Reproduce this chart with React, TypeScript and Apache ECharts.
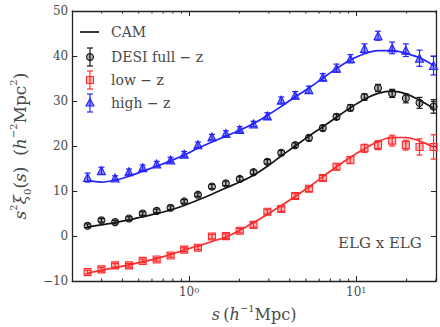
import React, { useEffect, useRef } from 'react';
import * as echarts from 'echarts';

// Separation bins s (h^-1 Mpc), log-spaced
const sBins = [0.247, 0.299, 0.361, 0.437, 0.528, 0.640, 0.775, 0.935, 1.13, 1.37, 1.66, 2.01, 2.43, 2.94, 3.56, 4.31, 5.21, 6.31, 7.62, 9.23, 11.2, 13.5, 16.4, 19.8, 23.9, 29.0];

// Measured s^2 xi_0(s) with 1-sigma errors
const fullZ = [2.3, 3.5, 3.1, 3.9, 5.0, 5.6, 6.3, 7.7, 9.2, 11.0, 11.7, 12.7, 14.2, 16.5, 18.5, 20.2, 21.8, 24.0, 26.5, 28.5, 30.9, 32.9, 31.7, 30.6, 29.6, 28.8];
const fullZErr = [0.4, 0.4, 0.4, 0.4, 0.4, 0.4, 0.4, 0.4, 0.4, 0.5, 0.5, 0.5, 0.5, 0.5, 0.5, 0.5, 0.6, 0.6, 0.6, 0.7, 0.7, 0.8, 0.9, 1.0, 1.2, 1.5];
const lowZ = [-8.0, -7.4, -6.5, -6.5, -5.5, -5.2, -4.3, -3.0, -2.6, -0.1, 0.0, 1.2, 2.5, 5.4, 6.0, 8.9, 10.5, 12.9, 15.4, 16.9, 19.5, 20.2, 21.2, 20.2, 19.8, 19.8];
const lowZErr = [0.4, 0.4, 0.4, 0.4, 0.4, 0.4, 0.4, 0.4, 0.4, 0.5, 0.5, 0.5, 0.5, 0.5, 0.5, 0.6, 0.6, 0.6, 0.7, 0.8, 0.9, 1.0, 1.2, 1.1, 1.8, 2.7];
const highZ = [13.0, 14.5, 12.9, 14.3, 15.2, 16.0, 16.9, 18.2, 20.3, 22.0, 22.8, 23.7, 24.9, 26.7, 30.2, 31.3, 32.5, 35.3, 37.3, 39.4, 41.7, 44.5, 41.8, 41.3, 39.5, 37.9];
const highZErr = [1.0, 0.8, 0.5, 0.6, 0.6, 0.6, 0.6, 0.6, 0.6, 0.6, 0.6, 0.6, 0.6, 0.7, 0.7, 0.8, 0.8, 0.8, 0.9, 0.9, 1.0, 1.0, 1.3, 1.4, 1.8, 2.1];

// CAM model predictions at the same bins
const camFull = [2.0, 2.5, 3.0, 3.6, 4.3, 5.0, 5.8, 6.8, 8.0, 9.3, 10.7, 12.0, 13.5, 15.5, 17.8, 20.0, 22.2, 24.3, 26.4, 28.5, 30.4, 31.7, 32.2, 31.6, 30.2, 28.4];
const camLow = [-8.2, -7.6, -7.0, -6.4, -5.7, -5.0, -4.1, -3.1, -2.2, -1.2, -0.2, 1.3, 3.0, 4.8, 6.8, 8.8, 10.9, 13.2, 15.4, 17.5, 19.4, 21.0, 21.9, 21.9, 21.1, 19.8];
const camHigh = [12.3, 12.0, 12.4, 13.3, 14.4, 15.5, 16.7, 18.0, 19.5, 20.9, 22.2, 23.5, 25.0, 26.8, 28.8, 30.9, 32.9, 35.1, 37.2, 39.1, 40.5, 41.2, 41.2, 40.6, 39.6, 37.9];

// Minor log ticks on the s axis
const minorTicks = [0.3, 0.4, 0.5, 0.6, 0.7, 0.8, 0.9, 2, 3, 4, 5, 6, 7, 8, 9, 20, 30];

const legendLabels = ['CAM', 'DESI full \u2212 z', 'low \u2212 z', 'high \u2212 z'];

const SERIF = '"DejaVu Serif", "Liberation Serif", serif';
const AXIS = '#222';
const TXT = '#4a4a4a';
const BLACK = '#151515';
const RED = '#ff2a2a';
const BLUE = '#2424ff';

function errorBars(name: string, vals: number[], errs: number[], color: string) {
  return {
    name,
    type: 'custom',
    silent: true,
    data: sBins.map((s, i) => [s, vals[i] - errs[i], vals[i] + errs[i]]),
    encode: { x: 0, y: [1, 2] },
    z: 2,
    renderItem: (_params: any, api: any) => {
      const lo = api.coord([api.value(0), api.value(1)]);
      const hi = api.coord([api.value(0), api.value(2)]);
      const c = 3;
      const st = { stroke: color, lineWidth: 1.2 };
      return {
        type: 'group',
        children: [
          { type: 'line', shape: { x1: lo[0], y1: lo[1], x2: hi[0], y2: hi[1] }, style: st },
          { type: 'line', shape: { x1: lo[0] - c, y1: lo[1], x2: lo[0] + c, y2: lo[1] }, style: st },
          { type: 'line', shape: { x1: hi[0] - c, y1: hi[1], x2: hi[0] + c, y2: hi[1] }, style: st },
        ],
      };
    },
  };
}

function markers(name: string, vals: number[], symbol: string, size: number, fill: string, color: string) {
  return {
    name,
    type: 'scatter',
    symbol,
    symbolSize: size,
    data: sBins.map((s, i) => [s, vals[i]]),
    itemStyle: { color: fill, borderColor: color, borderWidth: 1.1, opacity: 1 },
    z: 3,
    silent: true,
  };
}

function model(name: string, vals: number[], color: string) {
  return {
    name,
    type: 'line',
    data: sBins.map((s, i) => [s, vals[i]]),
    smooth: 0.35,
    showSymbol: false,
    lineStyle: { color, width: 1.7 },
    z: 4,
    silent: true,
  };
}

function legendEntry(y: number, color: string, kind: string) {
  const x = 90;
  const st = { stroke: color, lineWidth: 1.2 };
  const kids: any[] = [
    { type: 'line', shape: { x1: x, y1: y - 9, x2: x, y2: y + 9 }, style: st },
    { type: 'line', shape: { x1: x - 3, y1: y - 9, x2: x + 3, y2: y - 9 }, style: st },
    { type: 'line', shape: { x1: x - 3, y1: y + 9, x2: x + 3, y2: y + 9 }, style: st },
  ];
  if (kind === 'circle') {
    kids.push({ type: 'circle', shape: { cx: x, cy: y, r: 3.5 }, style: { fill: 'rgba(0,0,0,0.3)', stroke: color, lineWidth: 1.1 } });
  } else if (kind === 'rect') {
    kids.push({ type: 'rect', shape: { x: x - 3.5, y: y - 3.5, width: 7, height: 7 }, style: { fill: 'rgba(255,40,40,0.3)', stroke: color, lineWidth: 1.1 } });
  } else {
    kids.push({ type: 'polygon', shape: { points: [[x, y - 4.5], [x + 4, y + 3], [x - 4, y + 3]] }, style: { fill: 'rgba(36,36,255,0.5)', stroke: color, lineWidth: 1.1 } });
  }
  return { type: 'group', children: kids };
}

export default function App() {
  const ref = useRef<HTMLDivElement>(null);

  useEffect(() => {
    if (!ref.current) return;
    const chart = echarts.init(ref.current, undefined, { renderer: 'svg' });

    const legendY = [32, 57, 80, 103];

    const option: any = {
      animation: false,
      backgroundColor: '#fff',
      grid: { left: 66, right: 4, top: 11, bottom: 38 },
      xAxis: [
        {
          type: 'log',
          logBase: 10,
          min: 0.2,
          max: 30,
          position: 'bottom',
          axisLine: { show: true, onZero: false, lineStyle: { color: AXIS, width: 1.3 } },
          axisTick: { show: true, inside: true, length: 5, lineStyle: { color: AXIS, width: 1 } },
          splitLine: { show: false },
          axisLabel: {
            showMinLabel: false,
            showMaxLabel: false,
            color: TXT,
            fontFamily: SERIF,
            fontSize: 12,
            margin: 5,
            formatter: (v: number) => `10{sup|${Math.round(Math.log10(v))}}`,
            rich: { sup: { fontFamily: SERIF, fontSize: 8, color: TXT, verticalAlign: 'top', lineHeight: 9 } },
          },
          name: '{i|s} {n|(}{i|h}{sup|\u22121}{n|Mpc)}',
          nameLocation: 'middle',
          nameGap: 14,
          nameTextStyle: {
            rich: {
              i: { fontFamily: SERIF, fontStyle: 'italic', fontSize: 16, color: TXT, lineHeight: 22 },
              n: { fontFamily: SERIF, fontSize: 16, color: TXT, lineHeight: 22 },
              sup: { fontFamily: SERIF, fontSize: 10, color: TXT, verticalAlign: 'top', lineHeight: 12 },
            },
          },
        },
        {
          type: 'log',
          logBase: 10,
          min: 0.2,
          max: 30,
          position: 'top',
          axisLine: { show: true, onZero: false, lineStyle: { color: AXIS, width: 1.3 } },
          axisTick: { show: true, inside: true, length: 5, lineStyle: { color: AXIS, width: 1 } },
          axisLabel: { show: false },
          splitLine: { show: false },
        },
      ],
      yAxis: [
        {
          type: 'value',
          min: -10,
          max: 50,
          interval: 10,
          position: 'left',
          axisLine: { show: true, onZero: false, lineStyle: { color: AXIS, width: 1.3 } },
          axisTick: { show: true, inside: true, length: 5, lineStyle: { color: AXIS, width: 1 } },
          splitLine: { show: false },
          axisLabel: {
            color: TXT,
            fontFamily: SERIF,
            fontSize: 12,
            margin: 4,
            formatter: (v: number) => String(v).replace('-', '\u2212'),
          },
          name: '{i|s}{sup|2}{i|\u03be}{sub|0}{n|(}{i|s}{n|)  (}{i|h}{sup|\u22122}{n|Mpc}{sup|2}{n|)}',
          nameLocation: 'middle',
          nameGap: 28,
          nameTextStyle: {
            rich: {
              i: { fontFamily: SERIF, fontStyle: 'italic', fontSize: 17, color: TXT, lineHeight: 24 },
              n: { fontFamily: SERIF, fontSize: 17, color: TXT, lineHeight: 24 },
              sup: { fontFamily: SERIF, fontSize: 10, color: TXT, verticalAlign: 'top', lineHeight: 12 },
              sub: { fontFamily: SERIF, fontSize: 10, color: TXT, verticalAlign: 'bottom', lineHeight: 12 },
            },
          },
        },
        {
          type: 'value',
          min: -10,
          max: 50,
          interval: 10,
          position: 'right',
          axisLine: { show: true, onZero: false, lineStyle: { color: AXIS, width: 1.3 } },
          axisTick: { show: true, inside: true, length: 5, lineStyle: { color: AXIS, width: 1 } },
          axisLabel: { show: false },
          splitLine: { show: false },
        },
      ],
      series: [
        {
          name: 'minor ticks',
          type: 'custom',
          silent: true,
          clip: false,
          data: minorTicks.map((v) => [v, -10]),
          encode: { x: 0, y: 1 },
          z: 5,
          renderItem: (params: any, api: any) => {
            const x = api.coord([api.value(0), -10])[0];
            const cs = params.coordSys;
            const st = { stroke: AXIS, lineWidth: 1 };
            return {
              type: 'group',
              children: [
                { type: 'line', shape: { x1: x, y1: cs.y + cs.height, x2: x, y2: cs.y + cs.height - 2.5 }, style: st },
                { type: 'line', shape: { x1: x, y1: cs.y, x2: x, y2: cs.y + 2.5 }, style: st },
              ],
            };
          },
        },
        errorBars('DESI full - z', fullZ, fullZErr, BLACK),
        errorBars('low - z', lowZ, lowZErr, RED),
        errorBars('high - z', highZ, highZErr, BLUE),
        markers('DESI full - z', fullZ, 'circle', 7, 'rgba(0,0,0,0.3)', BLACK),
        markers('low - z', lowZ, 'rect', 7, 'rgba(255,40,40,0.3)', RED),
        markers('high - z', highZ, 'triangle', 8, 'rgba(36,36,255,0.5)', BLUE),
        model('CAM full', camFull, BLACK),
        model('CAM low', camLow, RED),
        model('CAM high', camHigh, BLUE),
      ],
      graphic: [
        { type: 'line', shape: { x1: 80, y1: legendY[0], x2: 99, y2: legendY[0] }, style: { stroke: BLACK, lineWidth: 1.7 } },
        legendEntry(legendY[1], BLACK, 'circle'),
        legendEntry(legendY[2], RED, 'rect'),
        legendEntry(legendY[3], BLUE, 'triangle'),
        ...legendLabels.map((t, i) => ({
          type: 'text',
          x: 111,
          y: legendY[i],
          style: { text: t, fill: TXT, fontFamily: SERIF, fontSize: 14, align: 'left', verticalAlign: 'middle' },
        })),
        {
          type: 'text',
          x: 338,
          y: 243,
          style: { text: 'ELG x ELG', fill: TXT, fontFamily: SERIF, fontSize: 15, align: 'left', verticalAlign: 'middle' },
        },
      ],
    };

    chart.setOption(option);
    return () => chart.dispose();
  }, []);

  return <div ref={ref} style={{ position: 'fixed', left: 0, top: 0, width: 440, height: 327 }} />;
}
